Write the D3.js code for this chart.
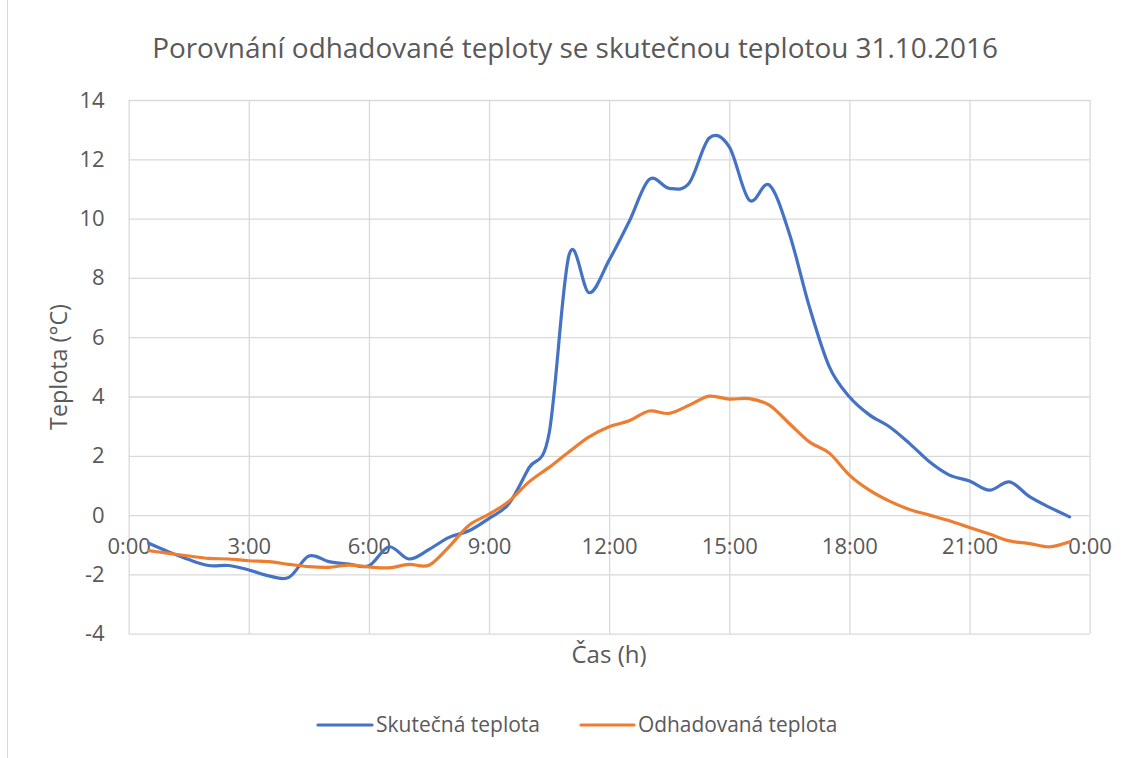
<!DOCTYPE html>
<html>
<head>
<meta charset="utf-8">
<script src="https://cdn.jsdelivr.net/npm/d3@7"></script>
<style>
  html, body { margin: 0; padding: 0; background: #ffffff; }
  svg { display: block; }
  text { font-family: "Open Sans", "Noto Sans", sans-serif; fill: #595959; }
</style>
</head>
<body>
<svg id="chart" width="1135" height="758"></svg>
<script>
// ---- data ----
const times = ["0:30","1:00","1:30","2:00","2:30","3:00","3:30","4:00","4:30","5:00","5:30","6:00",
  "6:30","7:00","7:30","8:00","8:30","9:00","9:30","10:00","10:30","11:00","11:30","12:00",
  "12:30","13:00","13:30","14:00","14:30","15:00","15:30","16:00","16:30","17:00","17:30","18:00",
  "18:30","19:00","19:30","20:00","20:30","21:00","21:30","22:00","22:30","23:00","23:30"];
const actualTemp = [-0.95,-1.24,-1.5,-1.7,-1.7,-1.85,-2.05,-2.1,-1.38,-1.57,-1.65,-1.71,
  -1.07,-1.48,-1.16,-0.75,-0.53,-0.11,0.39,1.6,2.75,8.78,7.5,8.6,
  9.9,11.32,11.02,11.2,12.72,12.42,10.62,11.13,9.5,7.03,5.0,3.99,
  3.38,2.98,2.42,1.8,1.35,1.15,0.84,1.12,0.62,0.26,-0.06];
const estimatedTemp = [-1.2,-1.29,-1.38,-1.46,-1.48,-1.54,-1.57,-1.66,-1.74,-1.76,-1.69,-1.75,
  -1.78,-1.66,-1.69,-1.07,-0.34,0.03,0.47,1.12,1.61,2.14,2.64,2.98,
  3.18,3.51,3.43,3.71,4.01,3.91,3.93,3.71,3.09,2.47,2.09,1.35,
  0.84,0.47,0.19,0.0,-0.19,-0.42,-0.64,-0.87,-0.96,-1.07,-0.9];
const xTickHours = [0,3,6,9,12,15,18,21,24];
const xTickLabels = ["0:00","3:00","6:00","9:00","12:00","15:00","18:00","21:00","0:00"];
const yTicks = [-4,-2,0,2,4,6,8,10,12,14];
const seriesNames = ["Skutečná teplota","Odhadovaná teplota"];
const seriesColors = ["#4472C4","#ED7D31"];
const titleText = "Porovnání odhadované teploty se skutečnou teplotou 31.10.2016";
const xTitle = "Čas (h)";
const yTitle = "Teplota (°C)";

// ---- layout ----
const svg = d3.select("#chart");
const plot = {left: 128.7, right: 1089.6, top: 100, bottom: 633.7};
const hours = times.map(t => { const [h, m] = t.split(":").map(Number); return h + m / 60; });

const x = d3.scaleLinear().domain([0, 24]).range([plot.left, plot.right]);
const y = d3.scaleLinear().domain([-4, 14]).range([plot.bottom, plot.top]);

function fitWidth(sel, target) {
  const node = sel.node();
  const w = node.getComputedTextLength();
  const fs = parseFloat(sel.attr("font-size"));
  sel.attr("font-size", (fs * target / w).toFixed(2));
}

// chart area left border
svg.append("line").attr("x1", 7.5).attr("x2", 7.5).attr("y1", 0).attr("y2", 758)
  .attr("stroke", "#d9d9d9").attr("stroke-width", 1);

// horizontal gridlines
const gy = svg.append("g").attr("transform", `translate(${plot.left},0)`)
  .call(d3.axisLeft(y).tickValues(yTicks).tickSize(-(plot.right - plot.left)).tickFormat(""));
gy.select(".domain").remove();
gy.selectAll(".tick line").attr("stroke", "#d9d9d9").attr("stroke-width", 1.3);

// vertical gridlines
const gx = svg.append("g").attr("transform", `translate(0,${plot.bottom})`)
  .call(d3.axisBottom(x).tickValues(xTickHours).tickSize(-(plot.bottom - plot.top)).tickFormat(""));
gx.select(".domain").remove();
gx.selectAll(".tick line").attr("stroke", "#d9d9d9").attr("stroke-width", 1.3);

// y tick labels
const yl = svg.append("g").attr("transform", `translate(${plot.left - 24},0)`)
  .call(d3.axisLeft(y).tickValues(yTicks).tickSize(0).tickPadding(0).tickFormat(d => d));
yl.select(".domain").remove();
yl.selectAll("text").attr("font-size", 22).attr("fill", "#595959")
  .style("font-family", '"Open Sans", sans-serif');

// x tick labels at value 0
const xl = svg.append("g").attr("transform", `translate(0,${y(0)})`)
  .call(d3.axisBottom(x).tickValues(xTickHours).tickSize(0).tickPadding(0)
    .tickFormat((d, i) => xTickLabels[i]));
xl.select(".domain").remove();
xl.selectAll("text").attr("font-size", 22).attr("fill", "#595959").attr("dy", null)
  .attr("y", 39).style("font-family", '"Open Sans", sans-serif');

// lines
const line = d3.line().curve(d3.curveCardinal.tension(0))
  .x((d, i) => x(hours[i])).y(d => y(d));
[actualTemp, estimatedTemp].forEach((vals, k) => {
  svg.append("path").datum(vals).attr("d", line)
    .attr("fill", "none").attr("stroke", seriesColors[k]).attr("stroke-width", 3.2)
    .attr("stroke-linejoin", "round").attr("stroke-linecap", "round");
});

// title
const t = svg.append("text").attr("x", 575).attr("y", 58).attr("text-anchor", "middle")
  .attr("font-size", 24).style("font-family", '"Open Sans", sans-serif').text(titleText);
fitWidth(t, 846);

// axis titles
svg.append("text").attr("x", 609).attr("y", 663).attr("text-anchor", "middle")
  .attr("font-size", 24).text(xTitle);
const yt = svg.append("text").attr("transform", `translate(67,367) rotate(-90)`)
  .attr("text-anchor", "middle").attr("font-size", 20).text(yTitle);
fitWidth(yt, 126);

// legend
const legendItems = [
  {x1: 318, x2: 372, tx: 376, w: 164},
  {x1: 581, x2: 634, tx: 638, w: 199.5}
];
legendItems.forEach((it, k) => {
  svg.append("line").attr("x1", it.x1).attr("x2", it.x2).attr("y1", 725).attr("y2", 725)
    .attr("stroke", seriesColors[k]).attr("stroke-width", 3.2).attr("stroke-linecap", "round");
  const lt = svg.append("text").attr("x", it.tx).attr("y", 731.5).attr("font-size", 18)
    .text(seriesNames[k]);
  fitWidth(lt, it.w);
});
</script>
</body>
</html>
